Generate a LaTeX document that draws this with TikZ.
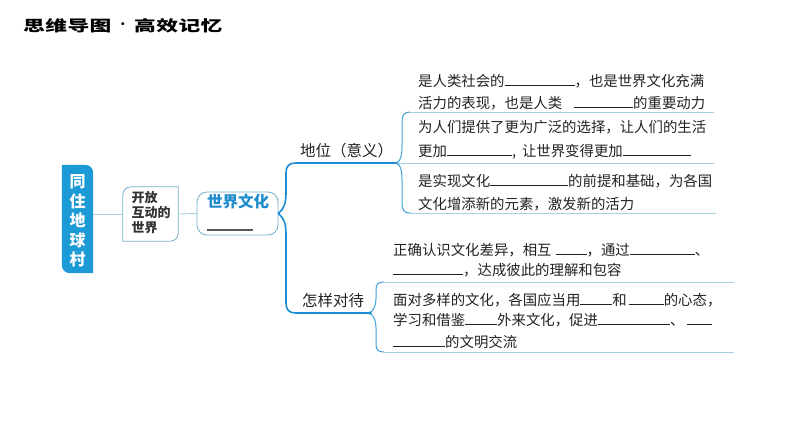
\documentclass[tikz,border=0pt]{standalone}
\usepackage{fontspec}
\setmainfont{Noto Sans CJK SC}
\usepackage{graphicx}
\definecolor{boxblue}{HTML}{1B9AD6}
\definecolor{mainblue}{HTML}{1A8CD0}
\definecolor{midblue}{HTML}{3FA2D8}
\definecolor{lineblue}{HTML}{A3D0E2}
\definecolor{sjblue}{HTML}{1E8CCB}
\definecolor{boxline}{HTML}{74AFCB}
\definecolor{txt}{HTML}{222222}
\definecolor{kfgray}{HTML}{333333}
\newcommand\blk[1]{\rule[0pt]{#1pt}{0.7pt}}
\tikzset{
  body/.style={anchor=base west, inner sep=0, font=\fontsize{14.4}{16}\selectfont, text=txt},
  label/.style={anchor=base west, inner sep=0, font=\fontsize{15.5}{17}\selectfont, text=txt},
  mainbr/.style={draw=mainblue, line width=1.6pt, line cap=round},
  subcurve/.style={draw=midblue, line width=1pt},
  subline/.style={draw=lineblue, line width=0.9pt},
  thinconn/.style={draw=lineblue, line width=0.9pt},
  titlechar/.style={inner sep=0, font=\fontsize{15}{15}\selectfont\bfseries, text=black},
}
\begin{document}
\begin{tikzpicture}[x=1pt,y=-1pt]
\useasboundingbox (0,0) rectangle (794,447);

% title
\foreach \c [count=\i] in {思,维,导,图}{
  \node[titlechar] (title\i) at ({23+22.2*(\i-1)+11},26) {\scalebox{1.45}[1]{\c}};
}
\node[inner sep=0, font=\fontsize{14}{14}\selectfont, text=black] (titledot) at ({23+22.2*4+11},26) {·};
\foreach \c [count=\i from 6] in {高,效,记,忆}{
  \node[titlechar] (title\i) at ({23+22.2*(\i-1)+11},26) {\scalebox{1.45}[1]{\c}};
}

% blue box
\node[minimum width=31pt, minimum height=108pt, inner sep=0] (cun) at (77.5,219) {};
\fill[boxblue] (cun.north) {[rounded corners=8pt] -- (cun.north east) -- (cun.east)} -- (cun.south east) -- (cun.south) {[rounded corners=8pt] -- (cun.south west) -- (cun.west)} -- (cun.north west) -- cycle;
\node[inner sep=0, font=\fontsize{16}{19.5}\selectfont\bfseries, text=white, align=center] (cuntext) at (77.5,221) {同\\住\\地\\球\\村};

% open world box
\node[minimum width=55pt, minimum height=54pt, inner sep=0] (kf) at (150.5,214) {};
\draw[boxline, line width=0.8pt] (kf.north) {[rounded corners=8pt] -- (kf.north west) -- (kf.west)} -- (kf.south west) -- (kf.south) {[rounded corners=8pt] -- (kf.south east) -- (kf.east)} -- (kf.north east) -- cycle;
\node[inner sep=0, anchor=west, align=left, font=\fontsize{13}{15}\selectfont\bfseries, text=kfgray] (kftext) at (131.5,213) {开放\\互动的\\世界};

% world culture box
\node[draw=boxline, line width=0.8pt, rounded corners=10pt, minimum width=81pt, minimum height=43pt, inner sep=0] (sj) at (237.5,213.5) {};
\node[inner sep=0, font=\fontsize{15.5}{17}\selectfont\bfseries, text=sjblue] (sjtext) at (238,202) {世界文化};
\coordinate (sjuA) at (207,230);
\coordinate (sjuB) at (253,230);
\draw[draw=black!65, line width=1.2pt] (sjuA) -- (sjuB);

% connectors between boxes
\draw[thinconn] (kf.west -| cun.east) -- (kf.west);
\draw[thinconn] (kf.east) -- (sj.west);

% labels
\node[label] (dw) at (300,156) {地位（意义）};
\node[label] (zy) at (302,306) {怎样对待};

\coordinate (br1) at (397,163);
\coordinate (br2) at (370,313);

% main brace
\draw[mainbr] (sj.east) .. controls (284,209) and (286,203) .. (286,193) -- (286,173) .. controls (286,166) and (289,163) .. (296,163) -- (br1);
\draw[mainbr] (sj.east) .. controls (284,218) and (286,224) .. (286,234) -- (286,303) .. controls (286,310) and (289,313) .. (296,313) -- (br2);

% sub brace 1
\coordinate (u1) at (714,112);
\coordinate (u2) at (714,163);
\coordinate (u3) at (716,213);
\draw[subline] (410,112) -- (u1);
\draw[subline] (br1) -- (u2);
\draw[subline] (410,213) -- (u3);
\draw[subcurve] (br1) .. controls (401,160) and (402,155) .. (402,146) -- (402,122) .. controls (402,115) and (404,112) .. (410,112);
\draw[subcurve] (br1) .. controls (401,166) and (402,171) .. (402,180) -- (402,203) .. controls (402,210) and (404,213) .. (410,213);
\fill[midblue] (br1) circle (1.6pt);

% sub brace 2
\coordinate (v1) at (734,282);
\coordinate (v2) at (734,352);
\draw[subline] (384,282) -- (v1);
\draw[subline] (384,352) -- (v2);
\draw[subcurve] (br2) .. controls (374,310) and (376,305) .. (376,298) -- (376,290) .. controls (376,284) and (378,282) .. (384,282);
\draw[subcurve] (br2) .. controls (374,316) and (376,321) .. (376,328) -- (376,344) .. controls (376,350) and (378,352) .. (384,352);
\fill[mainblue] (br2) circle (1.8pt);

% upper texts
\node[body] (a1) at (418,86) {是人类社会的\blk{70}，也是世界文化充满};
\node[body] (a2) at (418,108) {活力的表现，也是人类\hspace{12pt}\blk{59}的重要动力};
\node[body] (b1) at (418,132) {为人们提供了更为广泛的选择，让人们的生活};
\node[body] (b2) at (418,156) {更加\blk{65},\hspace{6pt}让世界变得更加\blk{68}};
\node[body] (c1) at (418,186) {是实现文化\blk{78}的前提和基础，为各国};
\node[body] (c2) at (418,209) {文化增添新的元素，激发新的活力};

% lower texts
\node[body] (d1) at (393,255) {正确认识文化差异，相互\hspace{4pt}\blk{31}，通过\blk{65}、};
\node[body] (d2) at (393,275) {\blk{70}，达成彼此的理解和包容};
\node[body] (e1) at (393,305) {面对多样的文化，各国应当用\blk{32}和\hspace{2pt}\blk{35}的心态，};
\node[body] (e2) at (393,325) {学习和借鉴\blk{32}外来文化，促进\blk{72}、\hspace{3pt}\blk{25}};
\node[body] (e3) at (393,347) {\blk{52}的文明交流};
\end{tikzpicture}
\end{document}
